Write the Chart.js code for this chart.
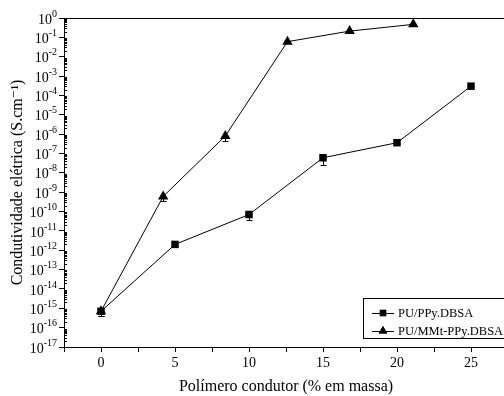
<!DOCTYPE html>
<html lang="pt">
<head>
  <meta charset="UTF-8">
  <title>Condutividade elétrica</title>
  <script src="https://cdn.jsdelivr.net/npm/chart.js"></script>
  <style>
    html, body { margin: 0; padding: 0; background: #fff; overflow: hidden; }
    canvas { display: block; }
  </style>
</head>
<body>
  <canvas id="chart" width="514" height="396"></canvas>

  <script>
    // dados
    const ppyLabel = 'PU/PPy.DBSA';
    const ppyX = [0, 5, 10, 15, 20, 25];
    const ppyY = [7e-16, 2e-12, 7e-11, 6e-8, 3.6e-7, 3e-4];
    const ppyLow = [4e-16, null, 3.5e-11, 2.5e-8, null, null];

    const mmtLabel = 'PU/MMt-PPy.DBSA';
    const mmtX = [0, 4.2, 8.4, 12.6, 16.8, 21.1];
    const mmtY = [7e-16, 6e-10, 8e-7, 6e-2, 0.21, 0.47];
    const mmtLow = [4e-16, 3.5e-10, 4.5e-7, null, null, null];

    const yExps = [0, -1, -2, -3, -4, -5, -6, -7, -8, -9, -10, -11, -12, -13, -14, -15, -16, -17];
    const xLabels = [0, 5, 10, 15, 20, 25];

    const FONT = '"Liberation Serif", "DejaVu Serif", serif';

    const toPts = (xs, ys) => xs.map((x, i) => ({ x: x, y: ys[i] }));

    // eixos extras: linha de cima, ticks menores, rótulos 10^n, barras de erro, legenda
    const extras = {
      id: 'extras',
      afterDatasetsDraw(chart) {
        const ctx = chart.ctx, xs = chart.scales.x, ys = chart.scales.y;
        ctx.save();
        ctx.strokeStyle = '#000';
        ctx.lineWidth = 1;
        [[ppyX, ppyY, ppyLow], [mmtX, mmtY, mmtLow]].forEach(([X, Y, L]) => {
          L.forEach((lo, i) => {
            if (lo == null) return;
            const px = Math.round(xs.getPixelForValue(X[i])) + 0.5;
            const y0 = ys.getPixelForValue(Y[i]);
            const y1 = Math.round(ys.getPixelForValue(lo)) + 0.5;
            ctx.beginPath();
            ctx.moveTo(px, y0); ctx.lineTo(px, y1);
            ctx.moveTo(px - 3, y1); ctx.lineTo(px + 3, y1);
            ctx.stroke();
          });
        });
        ctx.restore();
      },
      afterDraw(chart) {
        const ctx = chart.ctx, a = chart.chartArea, ys = chart.scales.y;
        ctx.save();
        ctx.strokeStyle = '#000';
        ctx.fillStyle = '#000';
        ctx.lineWidth = 1;

        // linha superior
        ctx.beginPath();
        ctx.moveTo(a.left, Math.round(a.top) + 0.5);
        ctx.lineTo(chart.width, Math.round(a.top) + 0.5);
        ctx.stroke();

        // ticks menores do eixo log (para dentro)
        ctx.beginPath();
        for (let e = -17; e < 0; e++) {
          for (let m = 2; m <= 9; m++) {
            const y = Math.round(ys.getPixelForValue(m * Math.pow(10, e))) + 0.5;
            ctx.moveTo(a.left, y); ctx.lineTo(a.left + 3, y);
          }
        }
        ctx.stroke();

        // rótulos 10^n
        ctx.textBaseline = 'middle';
        ctx.textAlign = 'right';
        yExps.forEach(e => {
          const y = ys.getPixelForValue(Math.pow(10, e));
          const exp = String(e);
          ctx.font = '10px ' + FONT;
          const w = ctx.measureText(exp).width;
          ctx.fillText(exp, 57, y - 4);
          ctx.font = '14px ' + FONT;
          ctx.fillText('10', 57 - w, y + 2);
        });

        // legenda
        const bx = 363, by = 298;
        ctx.strokeRect(bx + 0.5, by + 0.5, 200, 40);
        ctx.font = '12.5px ' + FONT;
        ctx.textAlign = 'left';
        chart.data.datasets.forEach((ds, i) => {
          const y = by + 15 + i * 18;
          ctx.beginPath();
          ctx.moveTo(bx + 9, Math.round(y) + 0.5);
          ctx.lineTo(bx + 31, Math.round(y) + 0.5);
          ctx.stroke();
          Chart.helpers.drawPoint(ctx, { pointStyle: ds.pointStyle, radius: ds.pointStyle === 'rect' ? 4.5 : 5, borderWidth: 0 }, bx + 20, y);
          ctx.fill();
          ctx.fillText(ds.label, bx + 35, y + 1);
        });
        ctx.restore();
      }
    };

    new Chart(document.getElementById('chart'), {
      type: 'line',
      data: {
        datasets: [
          { label: ppyLabel, data: toPts(ppyX, ppyY), pointStyle: 'rect', pointRadius: 5.3, borderColor: '#000', backgroundColor: '#000', borderWidth: 1, pointBorderWidth: 0, tension: 0 },
          { label: mmtLabel, data: toPts(mmtX, mmtY), pointStyle: 'triangle', pointRadius: 6, borderColor: '#000', backgroundColor: '#000', borderWidth: 1, pointBorderWidth: 0, tension: 0 }
        ]
      },
      options: {
        responsive: false,
        animation: false,
        devicePixelRatio: 1,
        layout: { padding: { top: 18, right: 2, left: 0, bottom: 0 } },
        plugins: { legend: { display: false }, tooltip: { enabled: false } },
        scales: {
          x: {
            type: 'linear',
            min: -2.5,
            max: 27.5,
            afterFit: s => { s.height = 49; },
            border: { display: true, color: '#000', width: 1 },
            grid: { drawOnChartArea: false, drawTicks: true, tickLength: 5, color: '#000' },
            ticks: {
              stepSize: 2.5,
              autoSkip: false,
              maxRotation: 0,
              padding: 3,
              color: '#000',
              font: { family: FONT, size: 14 },
              callback: v => xLabels.includes(v) ? String(v) : ''
            },
            title: {
              display: true,
              text: 'Polímero condutor (% em massa)',
              color: '#000',
              font: { family: FONT, size: 16 },
              padding: { top: 2, bottom: 0 }
            }
          },
          y: {
            type: 'logarithmic',
            min: 1e-17,
            max: 1,
            afterBuildTicks: s => { s.ticks = yExps.map(e => ({ value: Math.pow(10, e) })); },
            afterFit: s => { s.width = 64; },
            border: { display: true, color: '#000', width: 1 },
            grid: { drawOnChartArea: false, drawTicks: true, tickLength: 5, color: '#000' },
            ticks: { display: false },
            title: {
              display: true,
              text: 'Condutividade elétrica (S.cm⁻¹)',
              color: '#000',
              font: { family: FONT, size: 16 },
              padding: { top: 8, bottom: 0 }
            }
          }
        }
      },
      plugins: [extras]
    });
  </script>
</body>
</html>
